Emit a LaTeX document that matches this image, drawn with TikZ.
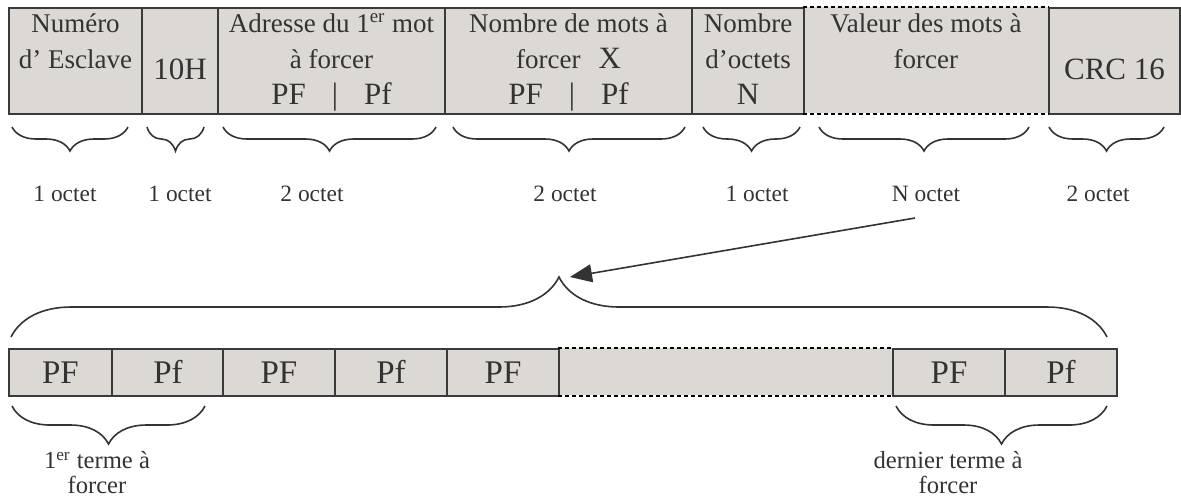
\documentclass[tikz,border=0pt]{standalone}
\usepackage{fontspec}
\setmainfont{Liberation Serif}
\usetikzlibrary{arrows.meta,decorations.pathreplacing}
\definecolor{ink}{HTML}{333333}
\definecolor{frame}{HTML}{3A3A3A}
\definecolor{cellfill}{HTML}{DCD8D4}
\newcommand{\txtfont}{\fontsize{13.5}{18}\selectfont}
\newcommand{\bigtxt}{\fontsize{15.5}{18}\selectfont}
\newcommand{\wordfont}{\fontsize{16.5}{18}\selectfont}
\newcommand{\lblfont}{\fontsize{11.7}{12.5}\selectfont}
\newcommand{\notefont}{\fontsize{12.3}{12.5}\selectfont}
\tikzset{
  every node/.style={text=ink},
  cell/.style={draw=frame,line width=1pt,fill=cellfill,anchor=north west,minimum height=53pt,inner sep=0pt},
  opencell/.style={fill=cellfill,anchor=north west,minimum height=53pt,inner sep=0pt},
  word/.style={draw=frame,line width=1pt,fill=cellfill,anchor=north west,minimum width=56pt,minimum height=23.5pt,inner sep=0pt,font=\wordfont,text height=11pt,text depth=0pt},
  openword/.style={fill=cellfill,anchor=north west,minimum height=23.5pt,inner sep=0pt},
  celltext/.style={anchor=north,align=center,inner sep=0pt,font=\txtfont},
  bigtext/.style={anchor=base,inner sep=0pt,font=\bigtxt},
  lbl/.style={anchor=base,inner sep=0pt,font=\lblfont},
  lbltwo/.style={anchor=north,align=center,inner sep=0pt,font=\notefont},
  octbrace/.style={decorate,decoration={brace,amplitude=#1},draw=ink,line width=0.8pt},
  gapline/.style={dash pattern=on 2pt off 1.5pt,line width=1.1pt,draw=black},
  arrow/.style={-{Triangle[length=11pt,width=9pt]},line width=0.8pt,draw=ink},
}
\newcommand{\pfpair}{{\bigtxt PF\hspace{13pt}|\hspace{13pt}Pf}}

\begin{document}
\begin{tikzpicture}[x=0.5pt,y=-0.5pt]
  \useasboundingbox (0,0) rectangle (1181,500);

  % Trame de la requete
  \node[opencell,minimum width=122.5pt] (val) at (803,7) {};
  \node[cell,minimum width=66.5pt] (esc) at (8,7) {};
  \node[cell,minimum width=38pt] (fct) at (141,7) {};
  \node[cell,minimum width=113.5pt] (adr) at (217,7) {};
  \node[cell,minimum width=123.5pt] (nbm) at (444,7) {};
  \node[cell,minimum width=56pt] (nbo) at (691,7) {};
  \node[cell,minimum width=65.5pt] (crc) at (1048,7) {};
  \draw[gapline] (val.north west) -- (val.north east);
  \draw[gapline] (val.south west) -- (val.south east);

  \node[celltext] (esct) at (esc.north) {\strut Numéro\\d’ Esclave};
  \node[bigtext] (fctt) at ([yshift=-9pt]fct.center) {10H};
  \node[celltext] (adrt) at (adr.north) {\strut Adresse du 1\textsuperscript{er} mot\\à forcer\\\pfpair};
  \node[celltext] (nbmt) at (nbm.north) {\strut Nombre de mots à\\forcer\hspace{9pt}{\bigtxt X}\\\pfpair};
  \node[celltext] (nbot) at (nbo.north) {\strut Nombre\\d’octets\\{\bigtxt N}};
  \node[celltext] (valt) at (val.north) {\strut Valeur des mots à\\forcer};
  \node[bigtext] (crct) at ([yshift=-9pt]crc.center) {CRC 16};

  % Tailles des champs
  \draw[octbrace=12pt] (128,127) -- (12,127);
  \draw[octbrace=12pt] (204,127) -- (147,127);
  \draw[octbrace=12pt] (436,127) -- (223,127);
  \draw[octbrace=12pt] (685,127) -- (453,127);
  \draw[octbrace=12pt] (800,127) -- (703,127);
  \draw[octbrace=12pt] (1029,127) -- (819,127);
  \draw[octbrace=12pt] (1164,127) -- (1049,127);
  \node[lbl] (o1) at (65,201) {1 octet};
  \node[lbl] (o2) at (180,201) {1 octet};
  \node[lbl] (o3) at (312,201) {2 octet};
  \node[lbl] (o4) at (565,201) {2 octet};
  \node[lbl] (o5) at (757,201) {1 octet};
  \node[lbl] (on) at (926,201) {N octet};
  \node[lbl] (o7) at (1098,201) {2 octet};

  % Detail des valeurs a forcer
  \node[openword,minimum width=167pt] (gap) at (558,348) {};
  \node[word,minimum width=51.5pt] (w1) at (8,348) {PF};
  \node[word] (w2) at (111,348) {Pf};
  \node[word] (w3) at (222,348) {PF};
  \node[word] (w4) at (334,348) {Pf};
  \node[word] (w5) at (446,348) {PF};
  \node[word] (w6) at (892,348) {PF};
  \node[word] (w7) at (1004,348) {Pf};
  \draw[gapline] (gap.north west) -- (gap.north east);
  \draw[gapline] (gap.south west) -- (gap.south east);

  \draw[octbrace=30pt] (11,337) -- (1107,337);
  \coordinate (ntail) at (915,218);
  \coordinate (fieldtip) at (570,277);
  \draw[arrow] (ntail) -- (fieldtip);

  \draw[octbrace=19pt] (205,406) -- (12,406);
  \draw[octbrace=19pt] (1107,406) -- (896,406);
  \node[lbltwo] (first) at (97,451) {\strut 1\textsuperscript{er} terme à\\forcer};
  \node[lbltwo] (last) at (948,451) {\strut dernier terme à\\forcer};
\end{tikzpicture}
\end{document}
